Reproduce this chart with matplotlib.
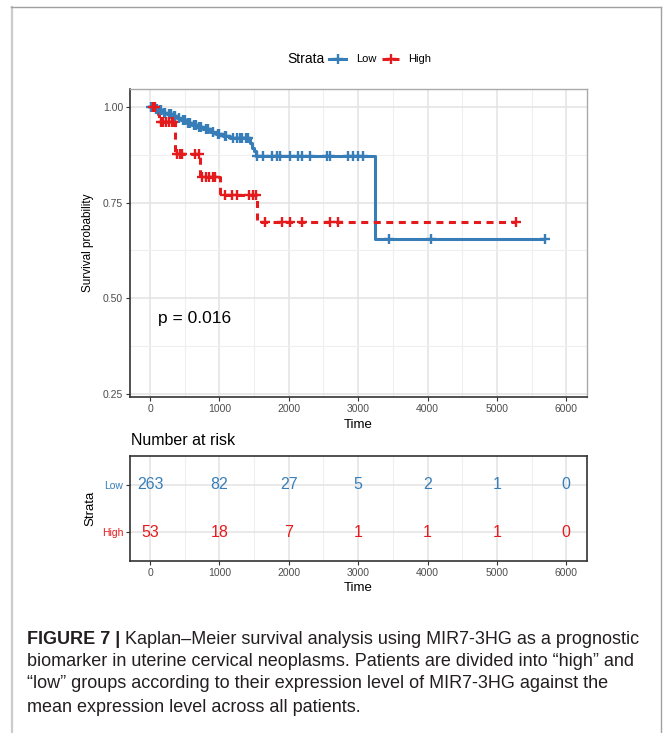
import numpy as np
import matplotlib
matplotlib.use("Agg")
import matplotlib.pyplot as plt
from matplotlib.lines import Line2D

plt.rcParams['font.family'] = ['Liberation Sans', 'DejaVu Sans']

# ---------------- data ----------------
strata = ["Low", "High"]
colors = {"Low": "#377EB8", "High": "#E41A1C"}

low_event_times = [0, 60, 120, 180, 250, 320, 390, 450, 530, 600, 680, 760, 870, 950,
                   1050, 1150, 1440, 1470, 1500, 1520, 3250]
low_surv = [1.0, 0.996, 0.992, 0.985, 0.981, 0.977, 0.971, 0.966, 0.958, 0.954, 0.948,
            0.943, 0.935, 0.930, 0.925, 0.920, 0.905, 0.893, 0.884, 0.873, 0.655]
low_end = 5700
low_censor = [20, 40, 80, 100, 140, 160, 200, 220, 270, 300, 340, 360, 420, 480, 500,
              550, 580, 630, 660, 700, 730, 800, 830, 900, 980, 1000, 1080, 1100, 1200,
              1250, 1300, 1330, 1380, 1410, 1540, 1630, 1755, 1830, 1875, 2020, 2135,
              2190, 2310, 2545, 2600, 2860, 2930, 3000, 3075, 3450, 4055, 5700]

high_event_times = [0, 110, 130, 360, 720, 1010, 1545]
high_surv = [1.0, 0.981, 0.962, 0.877, 0.816, 0.771, 0.700]
high_end = 5270
high_censor = [40, 70, 150, 190, 230, 270, 310, 335, 390, 430, 460, 650, 700, 750, 800,
               850, 900, 940, 1080, 1180, 1250, 1420, 1480, 1530, 1660, 1900, 2020, 2190,
               2600, 2710, 5270]

p_text = "p = 0.016"

risk_times = [0, 1000, 2000, 3000, 4000, 5000, 6000]
risk_low = [263, 82, 27, 5, 2, 1, 0]
risk_high = [53, 18, 7, 1, 1, 1, 0]

x_ticks = [0, 1000, 2000, 3000, 4000, 5000, 6000]
y_ticks = [0.25, 0.50, 0.75, 1.00]
y_ticklabels = ["0.25", "0.50", "0.75", "1.00"]

caption_bold = "FIGURE 7 |"
caption_lines = [
    " Kaplan\u2013Meier survival analysis using MIR7-3HG as a prognostic",
    "biomarker in uterine cervical neoplasms. Patients are divided into \u201chigh\u201d and",
    "\u201clow\u201d groups according to their expression level of MIR7-3HG against the",
    "mean expression level across all patients.",
]

# ---------------- figure ----------------
W, H = 667, 733
fig = plt.figure(figsize=(W / 100, H / 100), dpi=100)


def fx(px):
    return px / W


def fy(py):
    return 1 - py / H


# frame
fig.add_artist(Line2D([fx(11.5), fx(11.5)], [fy(7), 0], color="#cccccc", lw=1.6, transform=fig.transFigure))
fig.add_artist(Line2D([fx(11), fx(661)], [fy(7), fy(7)], color="#a0a0a0", lw=1.0, transform=fig.transFigure))
fig.add_artist(Line2D([fx(661), fx(661)], [fy(7), 0], color="#a0a0a0", lw=1.0, transform=fig.transFigure))

xlim = (-290, 6300)
tick_col = "#4d4d4d"

# main axes
ax = fig.add_axes([fx(130), fy(397), fx(587) - fx(130), fy(89) - fy(397)])
ax.set_xlim(*xlim)
ax.set_ylim(0.242, 1.047)
ax.set_xticks(x_ticks)
ax.set_xticks([500, 1500, 2500, 3500, 4500, 5500], minor=True)
ax.set_yticks(y_ticks)
ax.set_yticklabels(y_ticklabels)
ax.set_yticks([0.375, 0.625, 0.875], minor=True)
ax.grid(True, which="major", color="#e3e3e3", lw=1.1)
ax.grid(True, which="minor", color="#efefef", lw=0.8)
ax.set_axisbelow(True)
for s in ["top", "right"]:
    ax.spines[s].set_color("#aaaaaa")
    ax.spines[s].set_linewidth(1.0)
for s in ["left", "bottom"]:
    ax.spines[s].set_color("#333333")
    ax.spines[s].set_linewidth(1.2)
ax.tick_params(axis="both", which="major", length=3, width=0.8, color="#333333",
               labelsize=7.5, labelcolor=tick_col, pad=2)
ax.tick_params(axis="both", which="minor", length=0)
ax.set_xlabel("Time", fontsize=9.5, labelpad=4)
ax.set_ylabel("Survival probability", fontsize=8.5, labelpad=6)


def draw_km(times, surv, end, censor, col, ls):
    t = list(times) + [end]
    s = list(surv) + [surv[-1]]
    ax.step(t, s, where="post", color=col, lw=2.2, ls=ls, solid_capstyle="butt", zorder=3)
    idx = np.searchsorted(np.array(times), np.array(censor), side="right") - 1
    cy = np.array(surv)[idx]
    ax.plot(censor, cy, ls="none", marker="+", ms=7.5, mew=1.7, color=col, zorder=4)


draw_km(low_event_times, low_surv, low_end, low_censor, colors["Low"], "-")
draw_km(high_event_times, high_surv, high_end, high_censor, colors["High"], (0, (2.3, 1.8)))

ax.text(110, 0.447, p_text, fontsize=12.5, color="black", ha="left", va="center")

# legend (manual)
ly = fy(59)
fig.text(fx(287), ly, "Strata", fontsize=10, ha="left", va="center")
for name, x0, xt in [("Low", 329, 356), ("High", 382, 408)]:
    fig.add_artist(Line2D([fx(x0), fx(x0 + 17)], [ly, ly], color=colors[name], lw=2.2,
                          ls="-" if name == "Low" else (0, (2.3, 1)), transform=fig.transFigure))
    fig.add_artist(Line2D([fx(x0 + 8.5)], [ly], color=colors[name], marker="+", ms=7.5, mew=1.7,
                          ls="none", transform=fig.transFigure))
    fig.text(fx(xt), ly, name, fontsize=8, ha="left", va="center")

# risk table
rax = fig.add_axes([fx(130), fy(561), fx(587) - fx(130), fy(456) - fy(561)])
rax.set_xlim(*xlim)
rax.set_ylim(0.4, 2.6)
rax.set_xticks(x_ticks)
rax.set_xticks([500, 1500, 2500, 3500, 4500, 5500], minor=True)
rax.set_yticks([1, 2])
rax.set_yticklabels(["High", "Low"])
rax.grid(True, which="major", color="#e3e3e3", lw=1.1)
rax.grid(True, which="minor", axis="x", color="#efefef", lw=0.8)
rax.set_axisbelow(True)
for s in rax.spines.values():
    s.set_color("#333333")
    s.set_linewidth(1.2)
rax.tick_params(axis="x", which="major", length=3, width=0.8, color="#333333",
                labelsize=7.5, labelcolor=tick_col, pad=2)
rax.tick_params(axis="y", which="major", length=3, width=0.8, color="#333333",
                labelsize=7.5, pad=2)
rax.tick_params(which="minor", length=0)
for lab, name in zip(rax.get_yticklabels(), ["High", "Low"]):
    lab.set_color(colors[name])
rax.set_xlabel("Time", fontsize=9.5, labelpad=3)
rax.set_ylabel("Strata", fontsize=9.5, labelpad=4)
for t, n in zip(risk_times, risk_low):
    rax.text(t, 2, str(n), color=colors["Low"], fontsize=11.5, ha="center", va="center")
for t, n in zip(risk_times, risk_high):
    rax.text(t, 1, str(n), color=colors["High"], fontsize=11.5, ha="center", va="center")
fig.text(fx(131), fy(441), "Number at risk", fontsize=11.5, ha="left", va="center")

# caption
cap_size = 13.0
cap_col = "#231f20"
line_y = [639, 662, 684, 707]
renderer = fig.canvas.get_renderer()
tb = fig.text(fx(27), fy(line_y[0]), caption_bold, fontsize=cap_size, fontweight="bold",
              color=cap_col, ha="left", va="center")
bb = tb.get_window_extent(renderer=renderer)
fig.text(bb.x1 / W, fy(line_y[0]), caption_lines[0], fontsize=cap_size, color=cap_col,
         ha="left", va="center")
for ln, yy in zip(caption_lines[1:], line_y[1:]):
    fig.text(fx(27), fy(yy), ln, fontsize=cap_size, color=cap_col, ha="left", va="center")

fig.savefig("out.png", dpi=100)
